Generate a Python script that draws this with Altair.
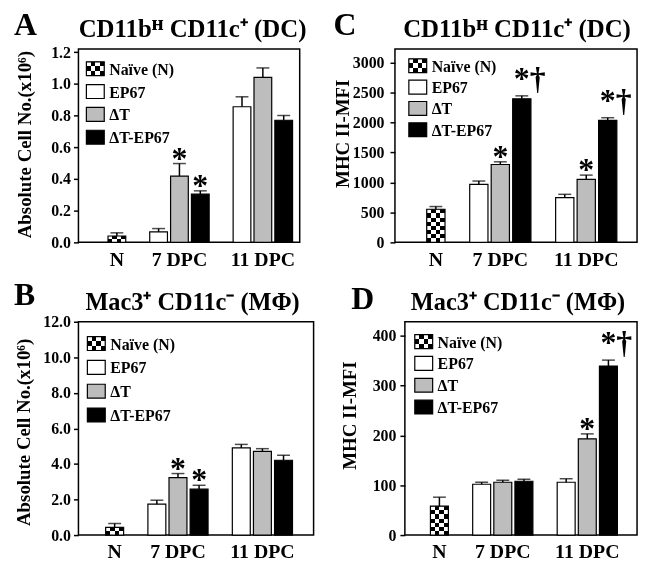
import altair as alt
import pandas as pd

# ---------------- data ----------------
groups = ["N", "7 DPC", "11 DPC"]
series = ["Naïve (N)", "EP67", "ΔT", "ΔT-EP67"]
treat = ["EP67", "ΔT", "ΔT-EP67"]
treat_colors = ["white", "#bdbdbd", "black"]

# Panel A: CD11b^H CD11c+ (DC), absolute cell number
a_naive = [0.040, 0.020]
a_7_mean = [0.066, 0.418, 0.304]
a_7_err = [0.021, 0.079, 0.021]
a_11_mean = [0.855, 1.040, 0.770]
a_11_err = [0.063, 0.060, 0.030]
a_7_sig = ["", "*", "*"]
a_11_sig = ["", "", ""]

# Panel B: Mac3+ CD11c- (MΦ), absolute cell number
b_naive = [0.43, 0.22]
b_7_mean = [1.74, 3.23, 2.58]
b_7_err = [0.22, 0.23, 0.22]
b_11_mean = [4.90, 4.71, 4.21]
b_11_err = [0.20, 0.15, 0.28]
b_7_sig = ["", "*", "*"]
b_11_sig = ["", "", ""]

# Panel C: CD11b^H CD11c+ (DC), MHC II-MFI
c_naive = [553, 45]
c_7_mean = [968, 1300, 2396]
c_7_err = [56, 45, 50]
c_11_mean = [747, 1051, 2036]
c_11_err = [55, 72, 45]
c_7_sig = ["", "*", "*†"]
c_11_sig = ["", "*", "*†"]

# Panel D: Mac3+ CD11c- (MΦ), MHC II-MFI
d_naive = [58, 18]
d_7_mean = [102, 106, 108]
d_7_err = [4, 4, 4]
d_11_mean = [106, 193, 339]
d_11_err = [7, 10, 12]
d_7_sig = ["", "", ""]
d_11_sig = ["", "*", "*†"]

a_ticks = [0.0, 0.2, 0.4, 0.6, 0.8, 1.0, 1.2]
b_ticks = [0, 2, 4, 6, 8, 10, 12]
c_ticks = [0, 500, 1000, 1500, 2000, 2500, 3000]
d_ticks = [0, 100, 200, 300, 400]

FONT = "Liberation Serif"

slots = (["pre", "N|" + series[0], "gap1"] + ["7 DPC|" + t for t in treat] + ["gap2"]
         + ["11 DPC|" + t for t in treat])
label_expr = ("datum.value == '%s' ? 'N' : datum.value == '7 DPC|ΔT' ? '7 DPC' : "
              "datum.value == '11 DPC|ΔT' ? '11 DPC' : ''" % slots[1])


def stripes(n, c1, c2, vertical=True):
    stops = []
    for k in range(n):
        col = c1 if k % 2 == 0 else c2
        stops.append(alt.GradientStop(offset=k / n, color=col))
        stops.append(alt.GradientStop(offset=(k + 1) / n, color=col))
    if vertical:
        return alt.LinearGradient(gradient="linear", stops=stops, x1=0, y1=0, x2=1, y2=0)
    return alt.LinearGradient(gradient="linear", stops=stops, x1=0, y1=0, x2=0, y2=1)


def make_df(naive, m7, e7, m11, e11, s7, s11):
    rows = [{"slot": slots[1], "series": series[0], "value": naive[0], "err": naive[1], "sig": ""}]
    for g, m, e, s in (("7 DPC", m7, e7, s7), ("11 DPC", m11, e11, s11)):
        for t, mv, ev, sv in zip(treat, m, e, s):
            rows.append({"slot": g + "|" + t, "series": t, "value": mv, "err": ev, "sig": sv})
    df = pd.DataFrame(rows)
    df["upper"] = df["value"] + df["err"]
    return df


def panel(letter, title, title_size, df, ydomain, yticks, yfmt, ytitle, width, height,
          po, align, nrows, title_x, title_y, letter_x, letter_y, head_x, lx, ly0, gap, lpad):
    xenc = alt.X("slot:N",
                 scale=alt.Scale(domain=slots, paddingInner=0.15, paddingOuter=po, align=align),
                 axis=alt.Axis(title=None, labelExpr=label_expr, ticks=False, tickSize=0,
                               labelAngle=0, labelFontSize=20, labelPadding=7, domain=False,
                               labelOverlap=False, labelLimit=200))
    yscale = alt.Scale(domain=ydomain, nice=False, zero=True)
    yaxis = alt.Axis(values=yticks, format=yfmt, title=ytitle, titleX=title_x, titleY=title_y,
                     titleBaseline="middle", titleFontSize=19, labelFontSize=16,
                     tickSize=5, labelPadding=lpad, domain=False)
    yv = alt.Y("value:Q", scale=yscale, axis=yaxis)
    yu = alt.Y("upper:Q", scale=yscale, axis=yaxis)

    base = alt.Chart(df).encode(x=xenc)
    naive_f = "datum.series == '%s'" % series[0]
    treat_f = "datum.series != '%s'" % series[0]

    bars = base.transform_filter(treat_f).mark_bar(stroke="black", strokeWidth=1.2).encode(
        y=yv,
        fill=alt.Fill("series:N", scale=alt.Scale(domain=treat, range=treat_colors), legend=None))
    nb1 = base.transform_filter(naive_f).mark_bar(fill=stripes(4, "black", "white"), strokeWidth=0).encode(y=yv)
    nb2 = base.transform_filter(naive_f).mark_bar(
        fill=stripes(nrows, "white", "rgba(255,255,255,0)", vertical=False),
        strokeWidth=0, blend="difference").encode(y=yv)
    nb3 = base.transform_filter(naive_f).mark_bar(fillOpacity=0, fill="white", stroke="black",
                                                   strokeWidth=1.2).encode(y=yv)
    rule = base.mark_rule(color="black", strokeWidth=1.5).encode(y=yv, y2="upper:Q")
    cap = base.mark_tick(orient="horizontal", size=13, thickness=1.5, color="black").encode(y=yu)
    star1 = base.transform_filter("datum.sig == '*'").mark_text(
        font=FONT, fontWeight="bold", fontSize=32, align="left", baseline="alphabetic",
        dx=-8, dy=5, color="black").encode(y=yu, text="sig:N")
    star2 = base.transform_filter("datum.sig == '*†'").mark_text(
        font=FONT, fontWeight="bold", fontSize=32, align="left", baseline="alphabetic",
        dx=-8, dy=-7, color="black").encode(y=yu, text="sig:N")

    layers = [bars, nb1, nb2, nb3, rule, cap, star1, star2]

    # legend drawn inside the plot
    sw_w, sw_h = 18, 14
    for i, name in enumerate(series):
        top = ly0 + i * gap
        ldf = pd.DataFrame({"label": [name]})
        lc = alt.Chart(ldf)
        if i == 0:
            layers.append(lc.mark_rect(fill=stripes(4, "black", "white"), strokeWidth=0).encode(
                x=alt.value(lx), x2=alt.value(lx + sw_w), y=alt.value(top), y2=alt.value(top + sw_h)))
            layers.append(lc.mark_rect(fill=stripes(3, "white", "rgba(255,255,255,0)", vertical=False),
                                       strokeWidth=0, blend="difference").encode(
                x=alt.value(lx), x2=alt.value(lx + sw_w), y=alt.value(top), y2=alt.value(top + sw_h)))
            layers.append(lc.mark_rect(fillOpacity=0, fill="white", stroke="black", strokeWidth=1.2).encode(
                x=alt.value(lx), x2=alt.value(lx + sw_w), y=alt.value(top), y2=alt.value(top + sw_h)))
        else:
            layers.append(lc.mark_rect(fill=treat_colors[i - 1], stroke="black", strokeWidth=1.2).encode(
                x=alt.value(lx), x2=alt.value(lx + sw_w), y=alt.value(top), y2=alt.value(top + sw_h)))
        layers.append(lc.mark_text(font=FONT, fontWeight="bold", fontSize=16, align="left",
                                   baseline="middle", color="black").encode(
            x=alt.value(lx + sw_w + 5), y=alt.value(top + sw_h / 2 + 1), text="label:N"))

    hdf = pd.DataFrame({"letter": [letter], "title": [title]})
    hc = alt.Chart(hdf)
    layers.append(hc.mark_text(font=FONT, fontWeight="bold", fontSize=32, align="left",
                               baseline="alphabetic", color="black").encode(
        x=alt.value(letter_x), y=alt.value(letter_y), text="letter:N"))
    layers.append(hc.mark_text(font=FONT, fontWeight="bold", fontSize=title_size, align="center",
                               baseline="alphabetic", color="black").encode(
        x=alt.value(head_x), y=alt.value(-12), text="title:N"))

    return alt.layer(*layers).properties(width=width, height=height)


dfA = make_df(a_naive, a_7_mean, a_7_err, a_11_mean, a_11_err, a_7_sig, a_11_sig)
dfB = make_df(b_naive, b_7_mean, b_7_err, b_11_mean, b_11_err, b_7_sig, b_11_sig)
dfC = make_df(c_naive, c_7_mean, c_7_err, c_11_mean, c_11_err, c_7_sig, c_11_sig)
dfD = make_df(d_naive, d_7_mean, d_7_err, d_11_mean, d_11_err, d_7_sig, d_11_sig)

cell_title = "Absolute Cell No.(x10⁶)"
mfi_title = "MHC II-MFI"
dc_title = "CD11bᴴ CD11c⁺ (DC)"
mp_title = "Mac3⁺ CD11c⁻ (MΦ)"

pA = panel("A", dc_title, 25, dfA, [0, 1.22], a_ticks, ".1f", cell_title, 223, 195,
           0.38, 0.55, 2, -54, 96, -65, -14, 115, 8, 13, 23, 3)
pC = panel("C", dc_title, 25, dfC, [0, 3230], c_ticks, "d", mfi_title, 244, 195,
           0.71, 0.338, 8, -53, 85, -62, -14, 123, 14, 10, 21.5, 6)
pB = panel("B", mp_title, 24.5, dfB, [0, 12], b_ticks, ".1f", cell_title, 237, 215,
           0.645, 0.225, 2, -55, 111, -65, -17, 115, 9, 15, 24, 3)
pD = panel("D", mp_title, 24.5, dfD, [0, 428], d_ticks, "d", mfi_title, 234, 215,
           0.57, 0.184, 7, -56, 94, -54, -13, 114, 10, 13, 22, 4)

row1 = alt.hconcat(pA, pC, spacing=96, bounds="flush")
row2 = alt.hconcat(pB, pD, spacing=92, bounds="flush")

chart = alt.vconcat(row1, row2, spacing=8).properties(
    padding={"left": 5, "top": -2, "right": 5, "bottom": 5}
).configure_view(stroke="black", strokeWidth=1.5).configure_axis(
    grid=False, domainColor="black", tickColor="black", labelColor="black", titleColor="black",
    labelFont=FONT, titleFont=FONT, labelFontWeight="bold", titleFontWeight="bold",
    tickWidth=1.5
)

chart.save("out.html", embed_options={"renderer": "svg", "actions": False})
